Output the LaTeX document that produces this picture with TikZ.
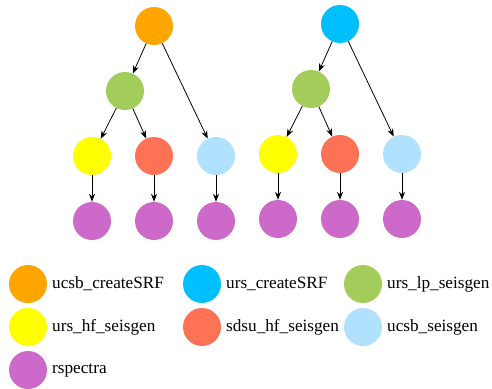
\documentclass[tikz,border=0pt]{standalone}
\usepackage{fontspec}
\setmainfont{Liberation Serif}
\usetikzlibrary{arrows.meta}
\definecolor{cOrange}{HTML}{FFA500}
\definecolor{cSky}{HTML}{00BFFF}
\definecolor{cGreen}{HTML}{A2CD5A}
\definecolor{cYellow}{HTML}{FFFF00}
\definecolor{cRed}{HTML}{FF7256}
\definecolor{cLight}{HTML}{B0E2FF}
\definecolor{cPurple}{HTML}{CD69C9}
\begin{document}
\begin{tikzpicture}[x=1pt,y=-1pt,
  job/.style={circle, minimum size=38pt, inner sep=0pt, draw=none, fill=#1},
  dep/.style={-{Stealth[length=8pt,width=6pt]}, line width=0.8pt},
  key/.style={anchor=west, inner sep=0pt, font=\fontsize{17.2}{20}\selectfont}]
\useasboundingbox (0,0) rectangle (492,388);
% Left tree
\node[job=cOrange] (lroot) at (154,26) {};
\node[job=cGreen] (llp) at (125,91) {};
\node[job=cYellow] (lhf) at (92,156) {};
\node[job=cRed] (lsdsu) at (154,156) {};
\node[job=cLight] (lucsb) at (216,156) {};
\node[job=cPurple] (lrs1) at (92,221) {};
\node[job=cPurple] (lrs2) at (154,221) {};
\node[job=cPurple] (lrs3) at (216,221) {};
\draw[dep] (lroot) -- (llp);
\draw[dep] (lroot) -- (lucsb);
\draw[dep] (llp) -- (lhf);
\draw[dep] (llp) -- (lsdsu);
\draw[dep] (lhf) -- (lrs1);
\draw[dep] (lsdsu) -- (lrs2);
\draw[dep] (lucsb) -- (lrs3);

% Right tree
\node[job=cSky] (rroot) at (340,24) {};
\node[job=cGreen] (rlp) at (311,89) {};
\node[job=cYellow] (rhf) at (278,154) {};
\node[job=cRed] (rsdsu) at (340,154) {};
\node[job=cLight] (rucsb) at (402,154) {};
\node[job=cPurple] (rrs1) at (278,219) {};
\node[job=cPurple] (rrs2) at (340,219) {};
\node[job=cPurple] (rrs3) at (402,219) {};
\draw[dep] (rroot) -- (rlp);
\draw[dep] (rroot) -- (rucsb);
\draw[dep] (rlp) -- (rhf);
\draw[dep] (rlp) -- (rsdsu);
\draw[dep] (rhf) -- (rrs1);
\draw[dep] (rsdsu) -- (rrs2);
\draw[dep] (rucsb) -- (rrs3);

% Legend
\node[job=cOrange] (k1) at (28,284) {};
\node[key] (t1) at (52,284) {ucsb\_createSRF};
\node[job=cSky] (k2) at (202,284) {};
\node[key] (t2) at (226,284) {urs\_createSRF};
\node[job=cGreen] (k3) at (363,284) {};
\node[key] (t3) at (387,284) {urs\_lp\_seisgen};
\node[job=cYellow] (k4) at (28,327) {};
\node[key] (t4) at (52,327) {urs\_hf\_seisgen};
\node[job=cRed] (k5) at (202,327) {};
\node[key] (t5) at (226,327) {sdsu\_hf\_seisgen};
\node[job=cLight] (k6) at (363,327) {};
\node[key] (t6) at (387,327) {ucsb\_seisgen};
\node[job=cPurple] (k7) at (28,370) {};
\node[key] (t7) at (52,370) {rspectra};
\end{tikzpicture}
\end{document}
